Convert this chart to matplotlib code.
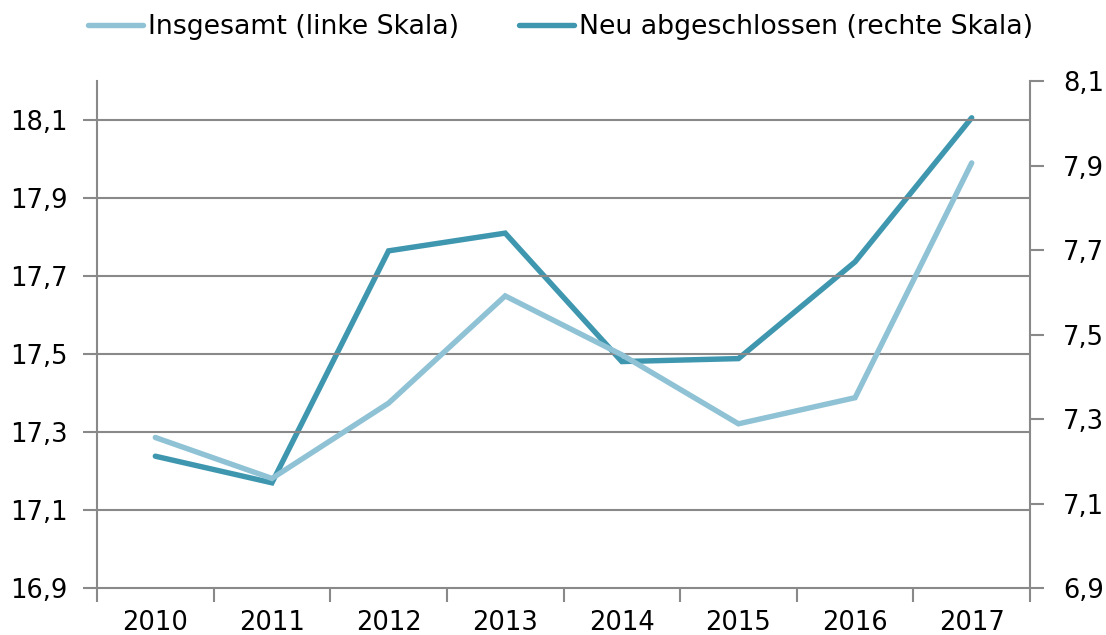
import matplotlib
matplotlib.use("Agg")
import matplotlib.pyplot as plt
import numpy as np

years = ["2010", "2011", "2012", "2013", "2014", "2015", "2016", "2017"]
insgesamt = [17.286, 17.181, 17.374, 17.649, 17.498, 17.321, 17.388, 17.99]
neu = [7.212, 7.149, 7.698, 7.740, 7.436, 7.443, 7.672, 8.013]
left_ticks = [16.9, 17.1, 17.3, 17.5, 17.7, 17.9, 18.1]
right_ticks = [6.9, 7.1, 7.3, 7.5, 7.7, 7.9, 8.1]
label_left = "Insgesamt (linke Skala)"
label_right = "Neu abgeschlossen (rechte Skala)"

c_light = "#8fc2d5"
c_dark = "#3e97af"
grid_c = "#898989"
fs = 18.5
fs_leg = 19.3

plt.rcParams['font.family'] = ['DejaVu Sans']

fig = plt.figure(figsize=(11.06, 6.35), dpi=100)
ax = fig.add_axes([0.0877, 0.074, 0.9313 - 0.0877, 0.8724 - 0.074])
ax2 = ax.twinx()

x = np.arange(len(years))
l1, = ax.plot(x, insgesamt, color=c_light, lw=3.9, solid_capstyle='round', solid_joinstyle='miter', zorder=3)
l2, = ax2.plot(x, neu, color=c_dark, lw=3.9, solid_capstyle='round', solid_joinstyle='miter', zorder=3)

ax.set_xlim(-0.5, len(years) - 0.5)
ax.set_ylim(16.9, 18.2)
ax2.set_ylim(6.9, 8.1)

ax.set_yticks(left_ticks)
ax.set_yticklabels([f"{v:.1f}".replace(".", ",") for v in left_ticks])
ax2.set_yticks(right_ticks)
ax2.set_yticklabels([f"{v:.1f}".replace(".", ",") for v in right_ticks])

ax.set_xticks(x)
ax.set_xticklabels(years)
ax.set_xticks(np.arange(-0.5, len(years) + 0.5, 1), minor=True)
ax.tick_params(axis='x', which='major', length=0, pad=16, labelsize=fs)
ax.tick_params(axis='x', which='minor', length=10, width=1.5, color=grid_c, direction='out')
ax.tick_params(axis='y', length=10, width=1.5, color=grid_c, pad=11, labelsize=fs)
ax2.tick_params(axis='y', length=10, width=1.5, color=grid_c, pad=14, labelsize=fs)

for v in left_ticks[1:]:
    ax.axhline(v, color=grid_c, lw=1.5, zorder=1)

for a in (ax, ax2):
    a.spines['top'].set_visible(False)
    for s in ('left', 'right', 'bottom'):
        a.spines[s].set_color(grid_c)
        a.spines[s].set_linewidth(1.5)
ax2.spines['left'].set_visible(False)
ax2.spines['bottom'].set_visible(False)
ax.spines['right'].set_visible(False)

ax.set_zorder(ax2.get_zorder() + 1)
ax.patch.set_visible(False)

fig.legend([l1, l2], [label_left, label_right], loc='center', bbox_to_anchor=(0.507, 0.957),
           ncol=2, frameon=False, fontsize=fs_leg, handlelength=2.05, handletextpad=0.18,
           columnspacing=2.25, borderpad=0)

fig.savefig("out.png", dpi=100)
